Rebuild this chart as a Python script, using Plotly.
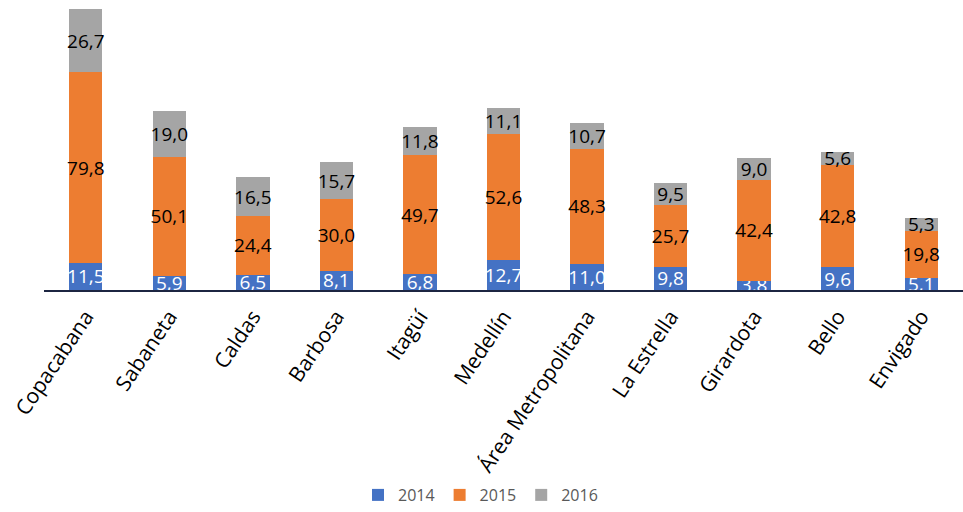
import plotly.graph_objects as go

municipios = ["Copacabana", "Sabaneta", "Caldas", "Barbosa", "Itagüí", "Medellín",
              "Área Metropolitana", "La Estrella", "Girardota", "Bello", "Envigado"]
v2014 = [11.5, 5.9, 6.5, 8.1, 6.8, 12.7, 11.0, 9.8, 3.8, 9.6, 5.1]
v2015 = [79.8, 50.1, 24.4, 30.0, 49.7, 52.6, 48.3, 25.7, 42.4, 42.8, 19.8]
v2016 = [26.7, 19.0, 16.5, 15.7, 11.8, 11.1, 10.7, 9.5, 9.0, 5.6, 5.3]


def etiquetas(vals):
    return [f"{v:.1f}".replace(".", ",") for v in vals]


series = [
    ("2014", v2014, "#4472C4", "white"),
    ("2015", v2015, "#ED7D31", "black"),
    ("2016", v2016, "#A5A5A5", "black"),
]

fig = go.Figure()
for nombre, vals, color, color_txt in series:
    fig.add_trace(go.Bar(
        x=municipios, y=vals, name=nombre,
        marker=dict(color=color, line=dict(width=0)),
        text=etiquetas(vals), textposition="inside", insidetextanchor="middle",
        textangle=0, constraintext="none",
        insidetextfont=dict(color=color_txt, size=19, family="Open Sans"),
    ))

fig.update_layout(
    barmode="stack",
    bargap=0.6,
    width=963, height=512,
    margin=dict(l=44, r=0, t=5, b=221),
    plot_bgcolor="white", paper_bgcolor="white",
    font=dict(family="Open Sans", color="black"),
    uniformtext=dict(minsize=19, mode="show"),
    xaxis=dict(
        tickangle=-56, tickfont=dict(size=21, color="black"),
        showline=True, linecolor="#1c2541", linewidth=2,
        showgrid=False, ticks="", automargin=False, ticklabelstandoff=4,
    ),
    yaxis=dict(range=[0, 119.6], visible=False, showgrid=False, automargin=False),
    legend=dict(
        orientation="h", x=0.475, xanchor="center", y=-0.72, yanchor="middle",
        font=dict(size=16, color="#595959"), itemwidth=30,
        traceorder="normal",
    ),
)

fig.write_html("out.html")
